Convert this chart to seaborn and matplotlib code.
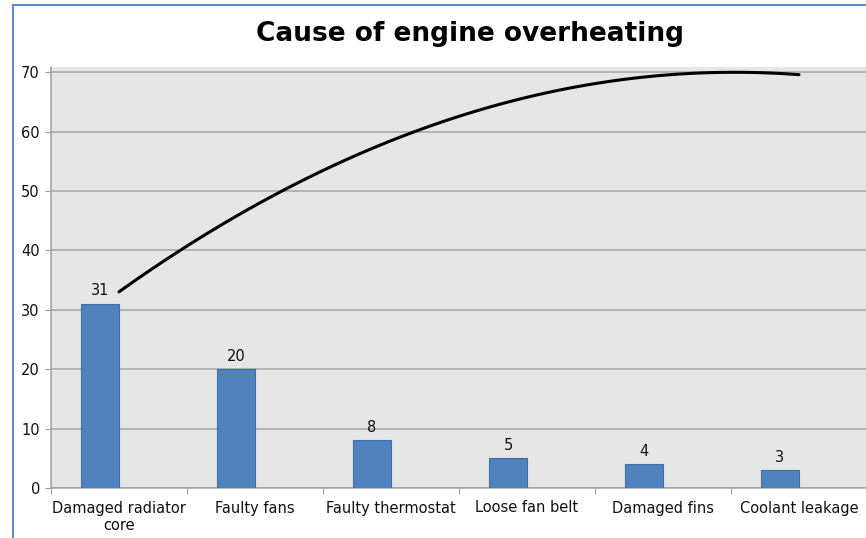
import numpy as np
import pandas as pd
import matplotlib
matplotlib.use("Agg")
import matplotlib.pyplot as plt
import seaborn as sns
from matplotlib.patches import Rectangle

# data
causes = ["Damaged radiator\ncore", "Faulty fans", "Faulty thermostat",
          "Loose fan belt", "Damaged fins", "Coolant leakage"]
counts = [31, 20, 8, 5, 4, 3]
cumulative = [31, 51, 59, 64, 68, 71]   # hidden series, shown only as a 2nd order trendline

df = pd.DataFrame({"cause": causes, "count": counts})
trend = pd.DataFrame({"pos": np.arange(len(causes)), "cum": cumulative})

sns.set_style("white")
plt.rcParams["font.family"] = ["DejaVu Sans"]

fig = plt.figure(figsize=(8.66, 5.38), dpi=100)
ax = fig.add_axes([51 / 866, 50 / 538, 816 / 866, 421 / 538])
ax.set_facecolor("#e6e6e6")

sns.barplot(data=df, x="cause", y="count", color="#4f81bd", saturation=1,
            width=0.28, edgecolor="#3f6fa8", linewidth=0.8, ax=ax, zorder=3)

# the bar sits in the left half of the slot (second slot belongs to the line series)
for bar in ax.patches:
    bar.set_x(bar.get_x() - 0.14)

for c in ax.containers:
    ax.bar_label(c, padding=4, fontsize=10.5, color="#111111")

sns.regplot(data=trend, x="pos", y="cum", order=2, ci=None, scatter=False,
            truncate=True, ax=ax, line_kws={"color": "black", "lw": 2.2, "zorder": 4})

ax.set_xlim(-0.5, 5.5)
ax.set_ylim(0, 70.9)
ax.set_yticks(range(0, 71, 10))
ax.yaxis.grid(True, color="#a6a6a6", lw=1.1, zorder=0)
ax.set_axisbelow(True)

ax.set_xticks(np.arange(-0.5, 6, 1))
ax.set_xticklabels([])
ax.set_xticks(np.arange(len(causes)), minor=True)
ax.set_xticklabels(causes, minor=True, fontsize=10.5, color="#111111")
ax.tick_params(axis="x", which="major", length=4, color="#a0a0a0", direction="out")
ax.tick_params(axis="x", which="minor", length=0, pad=9)
ax.tick_params(axis="y", length=4, color="#a0a0a0", labelsize=10.5, labelcolor="#111111", pad=4)
ax.xaxis.set_ticks_position("bottom")
ax.yaxis.set_ticks_position("left")
ax.set_xlabel("")
ax.set_ylabel("")

for s in ["top", "right"]:
    ax.spines[s].set_visible(False)
for s in ["left", "bottom"]:
    ax.spines[s].set_color("#a0a0a0")
    ax.spines[s].set_linewidth(1.1)

fig.text(470 / 866, 1 - 34 / 538, "Cause of engine overheating",
         ha="center", va="center", fontsize=19, fontweight="bold", color="black")

# chart frame
fig.patches.append(Rectangle((12.5 / 866, -0.1), 1.2, 1.1 - 5.5 / 538,
                             transform=fig.transFigure, fill=False,
                             edgecolor="#4a7dcc", lw=1.3))

fig.savefig("out.png", dpi=100)
